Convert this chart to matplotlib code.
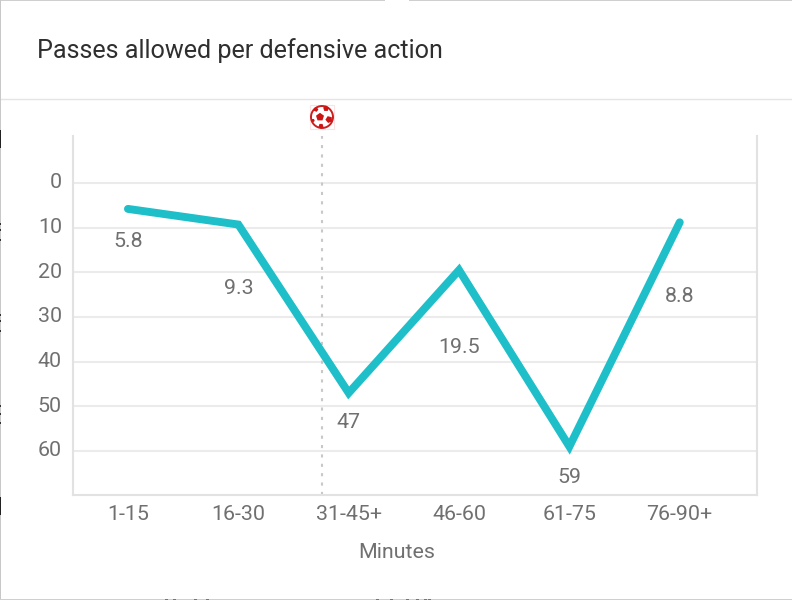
import matplotlib
matplotlib.use("Agg")
import matplotlib.pyplot as plt
from matplotlib.patches import Circle, Polygon, Rectangle
from matplotlib.transforms import ScaledTranslation
import math

minutes = ["1-15", "16-30", "31-45+", "46-60", "61-75", "76-90+"]
ppda = [5.8, 9.3, 47, 19.5, 59, 8.8]
labels = ["5.8", "9.3", "47", "19.5", "59", "8.8"]
y_ticks = [0, 10, 20, 30, 40, 50, 60]
goal_minute = 1.76

W, H = 792, 600
plt.rcParams["font.family"] = "Roboto"
fig = plt.figure(figsize=(W/100, H/100), dpi=100)
fig.patch.set_facecolor("white")
L, R, T, B = 73, 757, 136, 495
ax = fig.add_axes([L/W, 1-B/H, (R-L)/W, (B-T)/H])
ax.set_xlim(-0.498, 5.70)
per = (451-183)/60
ax.set_ylim((B-183)/per, (T-183)/per)
ax.spines["top"].set_visible(False)
for s in ["left", "right", "bottom"]:
    ax.spines[s].set_color("#e2e2e2")
    ax.spines[s].set_linewidth(1.5)
ax.set_yticks(y_ticks)
ax.set_xticks(range(len(minutes)))
ax.set_xticklabels(minutes)
ax.tick_params(axis="both", length=0, labelsize=15.4, labelcolor="#707070")
ax.tick_params(axis="x", pad=7)
ax.tick_params(axis="y", pad=8)
up = ScaledTranslation(0, 2/100, fig.dpi_scale_trans)
for t in ax.get_yticklabels():
    t.set_transform(t.get_transform() + up)
ax.grid(axis="y", color="#ebebeb", lw=1.5)
ax.set_axisbelow(True)
fig.text(397/W, 1-553/H, "Minutes", fontsize=15.4, color="#707070", ha="center", va="center")
ax.plot(range(len(minutes)), ppda, color="#1fbfca", lw=5.7, solid_joinstyle="miter", solid_capstyle="round", zorder=3)
ax.axvline(goal_minute, color="#c8c8c8", lw=1.5, ls=(0, (1.5, 3)), zorder=2)
offsets = [33, 64, 30, 77, 31, 74]
for i, (v, t) in enumerate(zip(ppda, labels)):
    ax.annotate(t, (i, v), xytext=(0, -offsets[i]*0.72), textcoords="offset points",
                ha="center", va="center", fontsize=15.4, color="#707070")

# header
fig.text(37/W, 1-51/H, "Passes allowed per defensive action", fontsize=18.05, color="#2f2f2f", va="center")
fig.add_artist(plt.Line2D([0, 1], [1-99.5/H]*2, color="#e4e4e4", lw=1, transform=fig.transFigure))

# goal marker (football icon)
cx, cy, r = 322, H-117, 11
def add(p):
    fig.add_artist(p)
add(Rectangle((cx-12, cy-12), 24, 24, transform=None, fc="white", ec="#fbe3e3", lw=0.8, zorder=5))
add(Circle((cx, cy), r, transform=None, fc="white", ec="#cc1f1f", lw=1.4, zorder=6))
def blob(x, y, rad, rot):
    pts = [(cx+x+rad*math.cos(math.radians(rot+72*k)), cy+y+rad*math.sin(math.radians(rot+72*k))) for k in range(5)]
    add(Polygon(pts, closed=True, transform=None, fc="#cc1414", ec="none", zorder=7, clip_on=False))
blob(-2, 0, 4.2, 90)
blob(7, -2.5, 3.6, 40)
blob(4, 8.5, 3, 90)
blob(-6, 7.5, 2.4, 140)
blob(-1, -9, 2.6, -90)
blob(-9, -3.5, 1.8, 200)

# screenshot frame remnants
def frame(x, y, w, h, c):
    add(Rectangle((x, H-y-h), w, h, transform=None, fc=c, ec="none", zorder=8))
frame(0, 0, 385, 1, "#cfcfcf")
frame(409, 0, 383, 1, "#cfcfcf")
frame(0, 0, 1, 600, "#c8c8c8")
frame(0, 599, 792, 1, "#cfcfcf")
frame(0, 130, 1, 18, "#222222")
frame(0, 497, 1, 18, "#222222")
for yy in (223, 229, 239, 314, 320, 330, 405, 413, 422):
    frame(0, yy, 1, 2, "#333333")
for xx in (165, 173, 194, 206, 376, 390, 406, 416, 424, 428):
    frame(xx, 599, 3, 1, "#3a8aa8")
fig.savefig("out.png", dpi=100)
